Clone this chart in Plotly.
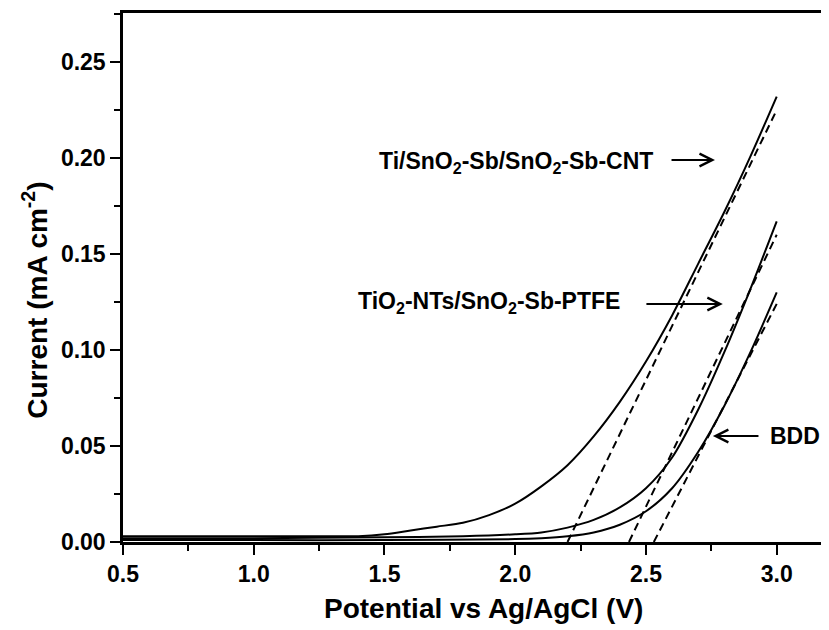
import plotly.graph_objects as go

# Ti/SnO2-Sb/SnO2-Sb-CNT
cnt_x = [0.5, 1.0, 1.3, 1.4, 1.5, 1.6, 1.7, 1.8, 1.9, 2.0, 2.1, 2.2, 2.3, 2.4, 2.5, 2.6, 2.7, 2.8, 2.9, 3.0]
cnt_y = [0.003, 0.003, 0.003, 0.003, 0.004, 0.006, 0.008, 0.010, 0.014, 0.020, 0.029, 0.040, 0.055,
         0.073, 0.094, 0.118, 0.145, 0.172, 0.201, 0.232]
# TiO2-NTs/SnO2-Sb-PTFE
ptfe_x = [0.5, 1.0, 1.5, 1.8, 2.0, 2.1, 2.2, 2.3, 2.4, 2.5, 2.6, 2.7, 2.8, 2.9, 3.0]
ptfe_y = [0.002, 0.002, 0.0025, 0.003, 0.004, 0.005, 0.0075, 0.0115, 0.018, 0.028, 0.044, 0.069, 0.099, 0.132, 0.167]
# BDD
bdd_x = [0.5, 1.0, 1.5, 2.0, 2.1, 2.2, 2.3, 2.4, 2.5, 2.6, 2.7, 2.8, 2.9, 3.0]
bdd_y = [0.001, 0.001, 0.001, 0.0015, 0.002, 0.003, 0.005, 0.009, 0.016, 0.028, 0.047, 0.071, 0.099, 0.130]

# tangent (onset) lines: endpoints
tan_cnt_x = [2.20, 3.0]
tan_cnt_y = [0.0, 0.225]
tan_ptfe_x = [2.435, 3.0]
tan_ptfe_y = [0.0, 0.160]
tan_bdd_x = [2.53, 3.0]
tan_bdd_y = [0.0, 0.124]

x_ticks = [0.5, 1.0, 1.5, 2.0, 2.5, 3.0]
x_labels = ["0.5", "1.0", "1.5", "2.0", "2.5", "3.0"]
y_ticks = [0.00, 0.05, 0.10, 0.15, 0.20, 0.25]
y_labels = ["0.00", "0.05", "0.10", "0.15", "0.20", "0.25"]

FONT = "Arial, Liberation Sans, sans-serif"

fig = go.Figure()
for xs, ys in [(cnt_x, cnt_y), (ptfe_x, ptfe_y), (bdd_x, bdd_y)]:
    fig.add_trace(go.Scatter(x=xs, y=ys, mode="lines", line=dict(color="black", width=2, shape="spline", smoothing=0.8),
                             showlegend=False, hoverinfo="skip"))
for xs, ys in [(tan_cnt_x, tan_cnt_y), (tan_ptfe_x, tan_ptfe_y), (tan_bdd_x, tan_bdd_y)]:
    fig.add_trace(go.Scatter(x=xs, y=ys, mode="lines", line=dict(color="black", width=2, dash="8px,5px"),
                             showlegend=False, hoverinfo="skip"))

ann_font = dict(family=FONT, size=23, color="black", weight="bold")
title_font = dict(family=FONT, size=28, color="black", weight="bold")
arrow_style = dict(text="", showarrow=True, axref="x", ayref="y", arrowhead=5, arrowsize=1.25,
                   arrowwidth=2, arrowcolor="black")
annotations = [
    dict(x=2.534, y=0.1974, text="Ti/SnO<sub>2</sub>-Sb/SnO<sub>2</sub>-Sb-CNT", showarrow=False,
         xanchor="right", yanchor="middle", font=ann_font),
    dict(x=2.764, y=0.199, ax=2.592, ay=0.199, **arrow_style),
    dict(x=2.408, y=0.1245, text="TiO<sub>2</sub>-NTs/SnO<sub>2</sub>-Sb-PTFE", showarrow=False,
         xanchor="right", yanchor="middle", font=ann_font),
    dict(x=2.794, y=0.124, ax=2.496, ay=0.124, **arrow_style),
    dict(x=2.967, y=0.0552, text="BDD", showarrow=False, xanchor="left", yanchor="middle", font=ann_font),
    dict(x=2.756, y=0.0552, ax=2.936, ay=0.0552, **arrow_style),
    dict(x=0.51, y=-0.1248, xref="paper", yref="paper", text="Potential vs Ag/AgCl (V)", showarrow=False,
         xanchor="center", yanchor="middle", font=title_font),
    dict(x=-0.124, y=0.457, xref="paper", yref="paper", text="Current (mA cm<sup>-2</sup>)", showarrow=False,
         xanchor="center", yanchor="middle", textangle=-90, font=title_font),
]

tick_font = dict(family=FONT, size=23, color="black", weight="bold")

fig.update_layout(
    width=821, height=622,
    margin=dict(l=115, r=0, t=5, b=88),
    paper_bgcolor="white", plot_bgcolor="white",
    annotations=annotations,
    xaxis=dict(range=[0.5, 3.2], tickvals=x_ticks, ticktext=x_labels, ticks="outside", ticklen=10,
               tickwidth=2, tickcolor="black", showline=True, linewidth=2.5, linecolor="black",
               mirror=True, showgrid=False, zeroline=False, tickfont=tick_font, automargin=False,
               minor=dict(dtick=0.25, ticks="outside", ticklen=6, tickwidth=2, tickcolor="black", showgrid=False)),
    yaxis=dict(range=[0, 0.2755], tickvals=y_ticks, ticktext=y_labels, ticks="outside", ticklen=10,
               tickwidth=2, tickcolor="black", showline=True, linewidth=2.5, linecolor="black",
               showgrid=False, zeroline=False, tickfont=tick_font, automargin=False,
               minor=dict(dtick=0.025, ticks="outside", ticklen=6, tickwidth=2, tickcolor="black", showgrid=False)),
)

fig.write_html("out.html")
